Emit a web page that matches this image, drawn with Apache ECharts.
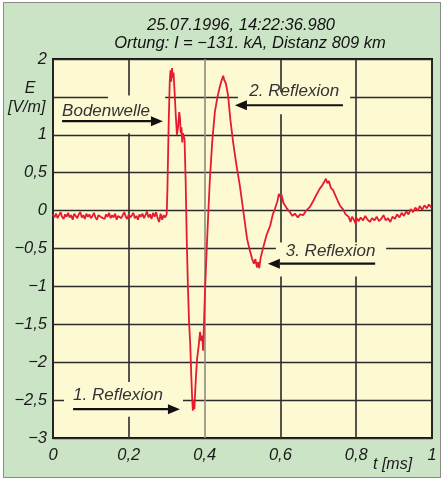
<!DOCTYPE html>
<html>
<head>
<meta charset="utf-8">
<script src="https://cdn.jsdelivr.net/npm/echarts@6/dist/echarts.min.js"></script>
<style>
  html, body { margin: 0; padding: 0; background: #ffffff; }
  #frame {
    position: absolute; left: 3px; top: 2px; width: 436px; height: 474px;
    background: #cbe4c6; border: 1px solid #8a8a8a;
  }
  #chart { position: absolute; left: 0; top: 0; width: 445px; height: 480px; }
</style>
</head>
<body>
<div id="frame"></div>
<div id="chart"></div>
<script>
// E-field record, t in ms, E in V/m
const baseline = [
  [0.000, -0.05], [0.004, -0.09], [0.008, -0.04], [0.012, -0.10], [0.016, -0.06], [0.020, -0.02],
  [0.024, -0.08], [0.028, -0.11], [0.032, -0.05], [0.036, -0.08], [0.040, -0.03], [0.044, -0.09],
  [0.048, -0.06], [0.052, -0.12], [0.056, -0.04], [0.060, -0.07], [0.064, -0.10], [0.068, -0.05],
  [0.072, -0.02], [0.076, -0.09], [0.080, -0.06], [0.084, -0.11], [0.088, -0.04], [0.092, -0.08],
  [0.096, -0.05], [0.100, -0.10], [0.104, -0.07], [0.108, -0.03], [0.112, -0.09], [0.116, -0.12],
  [0.120, -0.06], [0.124, -0.04], [0.128, -0.09], [0.132, -0.07], [0.136, -0.11], [0.140, -0.05],
  [0.144, -0.08], [0.148, -0.03], [0.152, -0.10], [0.156, -0.06], [0.160, -0.09], [0.164, -0.04],
  [0.168, -0.12], [0.172, -0.07], [0.176, -0.05], [0.180, -0.10], [0.184, -0.06], [0.188, -0.02],
  [0.192, -0.08], [0.196, -0.11], [0.200, -0.05], [0.204, -0.09], [0.208, -0.06], [0.212, -0.03],
  [0.216, -0.10], [0.220, -0.07], [0.224, -0.12], [0.228, -0.05], [0.232, -0.08], [0.236, -0.04],
  [0.240, -0.10], [0.244, -0.06], [0.248, -0.01], [0.252, -0.09], [0.256, -0.05], [0.260, -0.11],
  [0.264, -0.03], [0.268, -0.08], [0.272, -0.02], [0.276, -0.10], [0.280, -0.15], [0.284, -0.04],
  [0.288, -0.12], [0.292, -0.06], [0.296, -0.09], [0.300, -0.05]
];

const groundWave = [
  [0.302, 0.30], [0.305, 1.10], [0.308, 1.70], [0.310, 1.85], [0.312, 1.70], [0.314, 1.88],
  [0.316, 1.75], [0.318, 1.82], [0.321, 1.55], [0.324, 1.25], [0.327, 1.00], [0.330, 1.10],
  [0.333, 1.30], [0.335, 1.22], [0.337, 1.02], [0.339, 1.10], [0.341, 0.90], [0.343, 1.02],
  [0.345, 0.98], [0.347, 0.95]
];

const reflex1 = [
  [0.350, 0.40], [0.353, -0.40], [0.356, -1.00], [0.359, -1.47], [0.362, -1.75], [0.365, -2.20],
  [0.367, -2.45], [0.369, -2.64], [0.371, -2.50], [0.373, -2.62], [0.376, -2.30], [0.380, -1.96],
  [0.384, -1.80], [0.388, -1.60], [0.391, -1.72], [0.394, -1.65], [0.396, -1.85], [0.398, -1.55],
  [0.401, -1.07], [0.404, -0.70], [0.406, -0.46]
];

const reflex2 = [
  [0.410, 0.00], [0.414, 0.42], [0.420, 0.90], [0.427, 1.30], [0.434, 1.50], [0.441, 1.65],
  [0.445, 1.72], [0.449, 1.78], [0.452, 1.72], [0.456, 1.68], [0.462, 1.52], [0.468, 1.20],
  [0.475, 0.91], [0.484, 0.60], [0.493, 0.33], [0.502, 0.00]
];

const reflex3 = [
  [0.512, -0.37], [0.518, -0.50], [0.525, -0.63], [0.530, -0.70], [0.534, -0.64], [0.538, -0.75],
  [0.541, -0.68], [0.544, -0.76], [0.548, -0.62], [0.554, -0.50], [0.563, -0.33], [0.573, -0.20],
  [0.580, -0.05], [0.586, 0.03], [0.592, 0.12], [0.596, 0.22], [0.599, 0.18], [0.603, 0.21],
  [0.608, 0.10], [0.617, 0.03], [0.625, -0.02], [0.632, -0.07], [0.638, -0.04], [0.646, -0.09],
  [0.652, -0.05], [0.660, -0.06], [0.668, 0.00], [0.678, 0.05], [0.686, 0.12], [0.694, 0.20],
  [0.704, 0.29], [0.710, 0.33], [0.716, 0.38], [0.720, 0.42], [0.724, 0.36], [0.728, 0.39],
  [0.733, 0.30], [0.739, 0.27], [0.745, 0.20], [0.752, 0.12], [0.758, 0.06], [0.765, 0.02],
  [0.772, -0.05], [0.780, -0.08], [0.785, -0.15], [0.789, -0.08], [0.794, -0.12], [0.798, -0.17],
  [0.802, -0.10]
];

const tail = [
  [0.806, -0.14], [0.812, -0.09], [0.818, -0.13], [0.824, -0.07], [0.830, -0.12], [0.836, -0.15],
  [0.842, -0.10], [0.848, -0.13], [0.854, -0.08], [0.860, -0.14], [0.866, -0.11], [0.872, -0.06],
  [0.878, -0.13], [0.884, -0.10], [0.890, -0.15], [0.896, -0.08], [0.902, -0.11], [0.908, -0.05],
  [0.914, -0.09], [0.920, -0.03], [0.926, -0.07], [0.932, -0.01], [0.938, -0.05], [0.944, 0.02],
  [0.950, -0.02], [0.956, 0.04], [0.962, 0.00], [0.968, 0.06], [0.974, 0.01], [0.980, 0.07],
  [0.986, 0.03], [0.992, 0.08], [0.998, 0.04]
];

const titleLines = ['25.07.1996, 14:22:36.980', 'Ortung: I = \u2212131. kA, Distanz 809 km'];

// the 1,5 tick label gives way to the unit text
const hiddenYLabels = [1.5];

// annotations, placed in data coordinates
const notes = [
  { text: 'Bodenwelle', at: [0.024, 1.31], arrow: [0.024, 0.290, 1.18], box: [0.145, 0.296, 1.52, 1.02] },
  { text: '2. Reflexion', at: [0.518, 1.57], arrow: [0.765, 0.480, 1.39], box: [0.488, 0.784, 1.56, 1.27] },
  { text: '3. Reflexion', at: [0.614, -0.53], arrow: [0.850, 0.567, -0.70], box: [0.588, 0.879, -0.42, -0.87] },
  { text: '1. Reflexion', at: [0.053, -2.44], arrow: [0.053, 0.335, -2.62], box: [0.029, 0.343, -2.26, -2.72] }
];

const FONT = "'Liberation Sans Narrow', 'Liberation Sans', Arial, sans-serif";
const plotBg = '#fdfad3';
const gridColor = '#2b2b2b';

const signal = [].concat(baseline, groundWave, reflex1, reflex2, reflex3, tail);

function fmt(v) {
  return String(v).replace('.', ',').replace('-', '\u2212');
}

const chart = echarts.init(document.getElementById('chart'));

const chartOptions = {
  animation: false,
  backgroundColor: 'transparent',
  grid: {
    left: 53, right: 13, top: 59, bottom: 42,
    show: true,
    backgroundColor: plotBg,
    borderColor: '#111',
    borderWidth: 2
  },
  xAxis: {
    type: 'value',
    min: 0, max: 1, interval: 0.2,
    axisLine: { show: false },
    axisTick: { show: false },
    axisLabel: {
      formatter: fmt, margin: 9,
      fontFamily: FONT, fontStyle: 'italic', fontSize: 16.5, color: '#1a1a1a'
    },
    splitLine: {
      lineStyle: { color: [gridColor, gridColor, '#8d8d80', gridColor, gridColor, gridColor], width: 1.6 }
    }
  },
  yAxis: {
    type: 'value',
    min: -3, max: 2, interval: 0.5,
    axisLine: { show: false },
    axisTick: { show: false },
    axisLabel: {
      formatter: (v) => (hiddenYLabels.includes(v) ? '' : fmt(v)), margin: 6,
      fontFamily: FONT, fontStyle: 'italic', fontSize: 16.5, color: '#1a1a1a'
    },
    splitLine: { lineStyle: { color: gridColor, width: 1.4 } }
  },
  series: [{
    type: 'line',
    data: signal,
    showSymbol: false,
    z: 3,
    lineStyle: { color: '#e51c30', width: 1.8 }
  }]
};

chart.setOption(chartOptions);

function px(t, e) {
  return chart.convertToPixel({ gridIndex: 0 }, [t, e]);
}

function buildGraphics() {
  const g = [];
  const textStyle = { fontFamily: FONT, fontStyle: 'italic', fontSize: 17, fill: '#333' };

  notes.forEach((n) => {
    const b1 = px(n.box[0], n.box[2]);
    const b2 = px(n.box[1], n.box[3]);
    g.push({
      type: 'rect', z: 1,
      shape: { x: b1[0], y: b1[1], width: b2[0] - b1[0], height: b2[1] - b1[1] },
      style: { fill: plotBg }
    });
    const p = px(n.at[0], n.at[1]);
    g.push({
      type: 'text', z: 6, x: p[0], y: p[1],
      style: Object.assign({ text: n.text, verticalAlign: 'middle', align: 'left' }, textStyle)
    });
    const a = px(n.arrow[0], n.arrow[2]);
    const h = px(n.arrow[1], n.arrow[2]);
    const dir = h[0] > a[0] ? 1 : -1;
    const headLen = 12;
    g.push({
      type: 'line', z: 6,
      shape: { x1: a[0], y1: a[1], x2: h[0] - dir * headLen, y2: h[1] },
      style: { stroke: '#111', lineWidth: 2.2 }
    });
    g.push({
      type: 'polygon', z: 6,
      shape: { points: [[h[0], h[1]], [h[0] - dir * headLen, h[1] - 5], [h[0] - dir * headLen, h[1] + 5]] },
      style: { fill: '#111' }
    });
  });

  const titleStyle = { fontFamily: FONT, fontStyle: 'italic', fontSize: 16.5, fill: '#111', align: 'center', verticalAlign: 'middle' };
  g.push({ type: 'text', z: 6, x: 241, y: 25, style: Object.assign({ text: titleLines[0] }, titleStyle) });
  g.push({ type: 'text', z: 6, x: 250, y: 43, style: Object.assign({ text: titleLines[1] }, titleStyle) });

  const unitStyle = { fontFamily: FONT, fontStyle: 'italic', fontSize: 16, fill: '#1a1a1a', verticalAlign: 'middle' };
  g.push({ type: 'text', z: 6, x: 30, y: 89, style: Object.assign({ text: 'E', align: 'center' }, unitStyle) });
  g.push({ type: 'text', z: 6, x: 8, y: 108, style: Object.assign({ text: '[V/m]', align: 'left' }, unitStyle) });
  g.push({ type: 'text', z: 6, x: 373, y: 465, style: Object.assign({ text: 't [ms]', align: 'left' }, unitStyle) });

  chart.setOption({ graphic: g });
}

buildGraphics();
</script>
</body>
</html>
